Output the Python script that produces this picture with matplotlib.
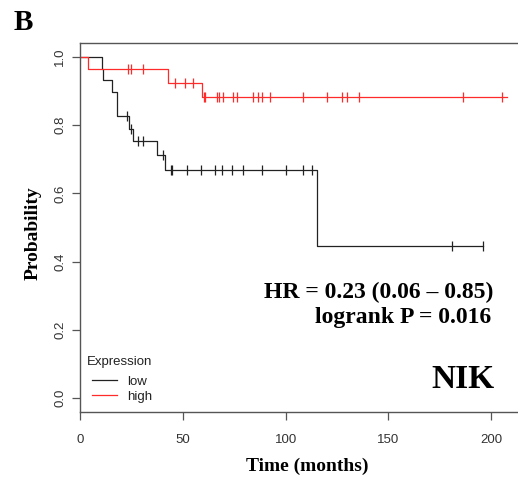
import numpy as np
import matplotlib
matplotlib.use("Agg")
import matplotlib.pyplot as plt
from matplotlib.lines import Line2D

# ---- data ----
low_times = [0, 10.5, 11.3, 15.7, 17.9, 23.8, 25.9, 37.6, 41.3, 115.1]
low_surv = [1.0, 0.966, 0.932, 0.897, 0.826, 0.790, 0.754, 0.712, 0.668, 0.446]
low_end = 196.0
low_censor = [23.0, 24.6, 28.3, 30.5, 40.2, 44.1, 44.9, 51.9, 58.7, 65.7, 69.0,
              74.0, 79.1, 88.6, 100.0, 108.6, 113.0, 181.0, 196.0]

high_times = [0, 4.0, 42.8, 59.2]
high_surv = [1.0, 0.966, 0.925, 0.883]
high_end = 207.5
high_censor = [23.5, 24.8, 30.5, 46.2, 51.1, 55.1, 60.3, 61.0, 66.5, 67.8, 69.7,
               74.2, 76.6, 84.0, 86.4, 88.4, 92.4, 108.3, 120.0, 127.3, 129.9,
               135.5, 186.4, 205.4]

x_ticks = [0, 50, 100, 150, 200]
y_ticks = [0.0, 0.2, 0.4, 0.6, 0.8, 1.0]
legend_labels = ["low", "high"]

SANS = "Liberation Sans"
SERIF = "Liberation Serif"
GRAY = "#555555"
LOW_C = "#222222"
HIGH_C = "#ff2a2a"

fig = plt.figure(figsize=(5.18, 4.79), dpi=100)
W, H = 518, 479
ax_left, ax_bottom, ax_top = 80, 411.7, 43.3
xmax = 215.0
px_per_unit = 2.056
ax_w = xmax * px_per_unit
ax_h = ax_bottom - ax_top
ax = fig.add_axes([ax_left / W, (H - ax_bottom) / H, ax_w / W, ax_h / H])


def km(ax, times, surv, end, censor, color):
    t = list(times) + [end]
    s = list(surv) + [surv[-1]]
    ax.step(t, s, where="post", color=color, lw=0.9)
    t_arr = np.asarray(times)
    s_arr = np.asarray(surv)
    idx = np.searchsorted(t_arr, np.asarray(censor), side="right") - 1
    ax.plot(censor, s_arr[idx], ls="none", marker="|", ms=6.5, mew=0.9, color=color)


km(ax, low_times, low_surv, low_end, low_censor, LOW_C)
km(ax, high_times, high_surv, high_end, high_censor, HIGH_C)

ax.set_xlim(0, xmax)
ax.set_ylim(-0.04, 1.04)
ax.set_xticks(x_ticks)
ax.set_yticks(y_ticks)
ax.set_xticklabels([str(v) for v in x_ticks], fontfamily=SANS, fontsize=9.5, color="#333333")
ax.set_yticklabels([f"{v:.1f}" for v in y_ticks], fontfamily=SANS, fontsize=9.5,
                   color="#333333", rotation=90, va="center")
ax.tick_params(axis="both", direction="out", length=6, width=0.9, color=GRAY)
ax.tick_params(axis="x", pad=10)
ax.tick_params(axis="y", pad=4)
for sp in ax.spines.values():
    sp.set_color(GRAY)
    sp.set_linewidth(1.0)

fig.text(33 / W, 1 - 233 / H, "Probability", rotation=90, ha="center", va="center",
         fontfamily=SERIF, fontweight="bold", fontsize=14)
fig.text(307 / W, 1 - 466 / H, "Time (months)", ha="center", va="center",
         fontfamily=SERIF, fontweight="bold", fontsize=14)
fig.text(23 / W, 1 - 23 / H, "B", ha="center", va="center",
         fontfamily=SERIF, fontweight="bold", fontsize=21)

fig.text(493 / W, 1 - 292 / H, "HR = 0.23 (0.06 \u2013 0.85)", ha="right", va="center",
         fontfamily=SERIF, fontweight="bold", fontsize=17)
fig.text(491 / W, 1 - 318 / H, "logrank P = 0.016", ha="right", va="center",
         fontfamily=SERIF, fontweight="bold", fontsize=17)
fig.text(495 / W, 1 - 380 / H, "NIK", ha="right", va="center",
         fontfamily=SERIF, fontweight="bold", fontsize=24)

# legend: title as text, entries as a legend below it
ax.text((87 - ax_left) / ax_w, (ax_bottom - 361.5) / ax_h, "Expression",
        transform=ax.transAxes, ha="left", va="center",
        fontfamily=SANS, fontsize=9.5, color=LOW_C)
handles = [Line2D([], [], color=LOW_C, lw=0.9), Line2D([], [], color=HIGH_C, lw=0.9)]
leg = ax.legend(handles, legend_labels, loc="upper left",
                bbox_to_anchor=((91.7 - ax_left) / ax_w, (ax_bottom - 375.5) / ax_h),
                frameon=False, borderpad=0, borderaxespad=0, handlelength=1.9,
                handletextpad=0.8, labelspacing=0.22,
                prop={"family": SANS, "size": 9.5})
for t in leg.get_texts():
    t.set_color(LOW_C)

fig.savefig("out.png", dpi=100)
